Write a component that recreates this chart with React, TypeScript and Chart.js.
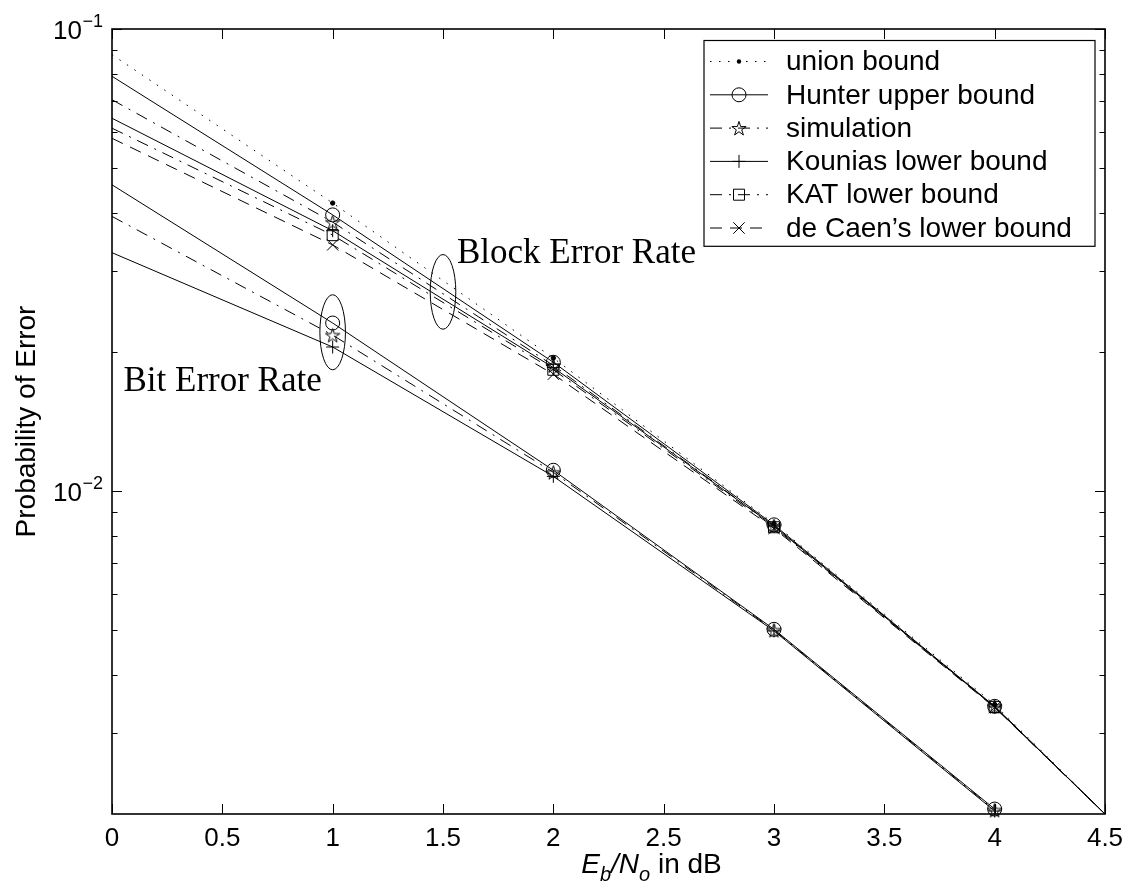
import React, { useEffect, useRef } from 'react';
import { Chart, registerables } from 'chart.js';

Chart.register(...registerables);

// ---------------- data ----------------
const snrBlock = [0, 1, 2, 3, 4, 4.5];
const snrBit = [0, 1, 2, 3, 4];

const blockUnion = [0.088, 0.042, 0.0194, 0.0085, 0.00345, 0.002];
const blockHunter = [0.079, 0.0396, 0.019, 0.00845, 0.00342, 0.002];
const blockSim = [0.0703, 0.0382, 0.0187, 0.0084, 0.00342, 0.002];
const blockKounias = [0.0641, 0.0366, 0.0185, 0.0084, 0.00341, 0.002];
const blockKAT = [0.061, 0.0358, 0.0183, 0.00835, 0.00341, 0.002];
const blockDeCaen = [0.058, 0.0341, 0.0179, 0.0083, 0.0034, 0.002];

const bitHunter = [0.046, 0.0231, 0.01109, 0.00502, 0.00205];
const bitSim = [0.0393, 0.02175, 0.01098, 0.005, 0.00204];
const bitKounias = [0.0328, 0.0205, 0.01076, 0.00498, 0.00203];

const xTicks = [0, 0.5, 1, 1.5, 2, 2.5, 3, 3.5, 4, 4.5];
const xTickLabels = ['0', '0.5', '1', '1.5', '2', '2.5', '3', '3.5', '4', '4.5'];
const yMajorTicks = [0.1, 0.01];
const yMajorExponents = ['\u22121', '\u22122'];
const yMinorTicks = [
  0.003, 0.004, 0.005, 0.006, 0.007, 0.008, 0.009,
  0.02, 0.03, 0.04, 0.05, 0.06, 0.07, 0.08, 0.09,
];

const legendNames = [
  'union bound',
  'Hunter upper bound',
  'simulation',
  'Kounias lower bound',
  'KAT lower bound',
  'de Caen\u2019s lower bound',
];

const blockLabelText = 'Block Error Rate';
const bitLabelText = 'Bit Error Rate';

// annotation anchors (data coordinates)
const blockLabelAt = { x: 1.563, y: 0.0311 };
const bitLabelAt = { x: 0.052, y: 0.01645 };
const blockEllipse = { x: 1.5, top: 0.0325, bottom: 0.0224, halfWidth: 0.058 };
const bitEllipse = { x: 1.0, top: 0.0266, bottom: 0.0183, halfWidth: 0.058 };

// ---------------- styles ----------------
const DOTTED = [1.5, 7.5];
const DASHED = [12, 8];
const DASHDOT = [12, 7, 2, 7];
const SOLID: number[] = [];

type MarkerKind = 'dot' | 'circle' | 'star' | 'plus' | 'square' | 'x';
const legendStyles: { dash: number[]; marker: MarkerKind }[] = [
  { dash: DOTTED, marker: 'dot' },
  { dash: SOLID, marker: 'circle' },
  { dash: DASHDOT, marker: 'star' },
  { dash: SOLID, marker: 'plus' },
  { dash: DASHDOT, marker: 'square' },
  { dash: DASHED, marker: 'x' },
];

const SANS = '"Liberation Sans", Arial, Helvetica, sans-serif';
const SERIF = '"Liberation Serif", "Times New Roman", serif';

function pentagramPath(ctx: CanvasRenderingContext2D, cx: number, cy: number, R: number) {
  const r = R * 0.382;
  ctx.beginPath();
  for (let k = 0; k < 10; k++) {
    const ang = -Math.PI / 2 + (k * Math.PI) / 5;
    const rad = k % 2 === 0 ? R : r;
    const px = cx + rad * Math.cos(ang);
    const py = cy + rad * Math.sin(ang);
    if (k === 0) ctx.moveTo(px, py);
    else ctx.lineTo(px, py);
  }
  ctx.closePath();
}

function makeStarCanvas(R: number) {
  const size = Math.ceil(R * 2 + 4);
  const c = document.createElement('canvas');
  c.width = size;
  c.height = size;
  const g = c.getContext('2d')!;
  g.strokeStyle = '#000';
  g.lineWidth = 1;
  pentagramPath(g, size / 2, size / 2 + 0.8, R);
  g.stroke();
  return c;
}

function drawMarker(ctx: CanvasRenderingContext2D, kind: MarkerKind, x: number, y: number) {
  ctx.save();
  ctx.setLineDash([]);
  ctx.strokeStyle = '#000';
  ctx.fillStyle = '#000';
  ctx.lineWidth = 1;
  ctx.beginPath();
  switch (kind) {
    case 'dot':
      ctx.arc(x, y, 2.2, 0, Math.PI * 2);
      ctx.fill();
      break;
    case 'circle':
      ctx.arc(x, y, 7, 0, Math.PI * 2);
      ctx.stroke();
      break;
    case 'star':
      pentagramPath(ctx, x, y + 0.8, 7.5);
      ctx.stroke();
      break;
    case 'plus':
      ctx.moveTo(x - 6.5, y);
      ctx.lineTo(x + 6.5, y);
      ctx.moveTo(x, y - 6.5);
      ctx.lineTo(x, y + 6.5);
      ctx.stroke();
      break;
    case 'square':
      ctx.rect(x - 5.5, y - 5.5, 11, 11);
      ctx.stroke();
      break;
    case 'x':
      ctx.moveTo(x - 5.7, y - 5.7);
      ctx.lineTo(x + 5.7, y + 5.7);
      ctx.moveTo(x + 5.7, y - 5.7);
      ctx.lineTo(x - 5.7, y + 5.7);
      ctx.stroke();
      break;
  }
  ctx.restore();
}

const framePlugin = {
  id: 'matlabFrame',
  afterDraw(chart: any) {
    const { ctx, chartArea: a, scales } = chart;
    const xs = scales.x;
    const ys = scales.y;
    const seg = (x1: number, y1: number, x2: number, y2: number) => {
      ctx.beginPath();
      ctx.moveTo(x1, y1);
      ctx.lineTo(x2, y2);
      ctx.stroke();
    };
    ctx.save();
    ctx.setLineDash([]);
    ctx.strokeStyle = '#000';
    ctx.lineWidth = 1;

    // ticks (inward, all four sides)
    xTicks.forEach((v) => {
      const px = Math.round(xs.getPixelForValue(v)) + 0.5;
      seg(px, a.bottom, px, a.bottom - 10);
      seg(px, a.top, px, a.top + 10);
    });
    yMajorTicks.forEach((v) => {
      const py = Math.round(ys.getPixelForValue(v)) + 0.5;
      seg(a.left, py, a.left + 10, py);
      seg(a.right, py, a.right - 10, py);
    });
    yMinorTicks.forEach((v) => {
      const py = Math.round(ys.getPixelForValue(v)) + 0.5;
      seg(a.left, py, a.left + 5.5, py);
      seg(a.right, py, a.right - 5.5, py);
    });

    // axes box
    ctx.lineWidth = 1.6;
    ctx.strokeRect(a.left, a.top, a.right - a.left, a.bottom - a.top);

    // x tick labels
    ctx.fillStyle = '#000';
    ctx.font = `26px ${SANS}`;
    ctx.textAlign = 'center';
    ctx.textBaseline = 'alphabetic';
    xTicks.forEach((v, i) => {
      ctx.fillText(xTickLabels[i], xs.getPixelForValue(v), a.bottom + 32);
    });

    // y tick labels 10^k
    yMajorTicks.forEach((v, i) => {
      const py = ys.getPixelForValue(v);
      ctx.font = `26px ${SANS}`;
      ctx.textAlign = 'right';
      ctx.fillText('10', a.left - 30, py + 10);
      ctx.font = `18px ${SANS}`;
      ctx.textAlign = 'left';
      ctx.fillText(yMajorExponents[i], a.left - 29.5, py - 2.5);
    });

    // y label
    ctx.save();
    ctx.font = `28px ${SANS}`;
    ctx.textAlign = 'center';
    ctx.translate(35, (a.top + a.bottom) / 2);
    ctx.rotate(-Math.PI / 2);
    ctx.fillText('Probability of Error', 0, 0);
    ctx.restore();

    // x label: E_b/N_o in dB
    const parts = [
      { t: 'E', it: true, sub: false },
      { t: 'b', it: true, sub: true },
      { t: '/', it: true, sub: false },
      { t: 'N', it: true, sub: false },
      { t: 'o', it: true, sub: true },
      { t: ' in dB', it: false, sub: false },
    ];
    const fontFor = (p: { it: boolean; sub: boolean }) =>
      `${p.it ? 'italic ' : ''}${p.sub ? 20 : 28}px ${SANS}`;
    let total = 0;
    parts.forEach((p) => {
      ctx.font = fontFor(p);
      total += ctx.measureText(p.t).width;
    });
    let cx = (a.left + a.right) / 2 + 43 - total / 2;
    const baseY = a.bottom + 59;
    ctx.textAlign = 'left';
    parts.forEach((p) => {
      ctx.font = fontFor(p);
      ctx.fillText(p.t, cx, p.sub ? baseY + 8 : baseY);
      cx += ctx.measureText(p.t).width;
    });

    // annotations: ellipses + serif labels
    ctx.lineWidth = 1;
    [blockEllipse, bitEllipse].forEach((e) => {
      const ex = xs.getPixelForValue(e.x);
      const rx = xs.getPixelForValue(e.x + e.halfWidth) - ex;
      const yt = ys.getPixelForValue(e.top);
      const yb = ys.getPixelForValue(e.bottom);
      ctx.beginPath();
      ctx.ellipse(ex, (yt + yb) / 2, rx, (yb - yt) / 2, 0, 0, Math.PI * 2);
      ctx.stroke();
    });
    ctx.font = `35px ${SERIF}`;
    ctx.textAlign = 'left';
    ctx.fillText(blockLabelText, xs.getPixelForValue(blockLabelAt.x), ys.getPixelForValue(blockLabelAt.y));
    ctx.fillText(bitLabelText, xs.getPixelForValue(bitLabelAt.x), ys.getPixelForValue(bitLabelAt.y));

    // legend
    const lx = a.right - 401;
    const lw = 391;
    const ly = a.top + 11.5;
    const rowH = 33.3;
    const lh = rowH * legendNames.length + 6;
    ctx.fillStyle = '#fff';
    ctx.fillRect(lx, ly, lw, lh);
    ctx.strokeStyle = '#000';
    ctx.lineWidth = 1.2;
    ctx.strokeRect(lx, ly, lw, lh);
    ctx.font = `28px ${SANS}`;
    ctx.textBaseline = 'middle';
    legendNames.forEach((name, i) => {
      const cy = ly + 21 + i * rowH;
      const st = legendStyles[i];
      ctx.strokeStyle = '#000';
      ctx.lineWidth = 1;
      ctx.setLineDash(st.dash);
      seg(lx + 6, cy, lx + 64, cy);
      ctx.setLineDash([]);
      drawMarker(ctx, st.marker, lx + 35, cy);
      ctx.fillStyle = '#000';
      ctx.fillText(name, lx + 82, cy + 1);
    });
    ctx.restore();
  },
};

function pts(xs: number[], ys: number[]) {
  return xs.map((x, i) => ({ x, y: ys[i] }));
}

// markers shown at the integer SNR points 1..4 only
function markerRadii(n: number, r: number) {
  const shown = [false, true, true, true, true, false];
  return shown.slice(0, n).map((s) => (s ? r : 0));
}

export default function App() {
  const ref = useRef<HTMLCanvasElement>(null);

  useEffect(() => {
    const canvas = ref.current;
    if (!canvas) return;
    const star = makeStarCanvas(7.5);

    const base = {
      borderColor: '#000',
      borderWidth: 1,
      pointBorderColor: '#000',
      pointBackgroundColor: 'rgba(0,0,0,0)',
      pointBorderWidth: 1,
      tension: 0,
      fill: false,
      clip: 10,
    };

    const datasets: any[] = [
      { ...base, label: 'union bound', data: pts(snrBlock, blockUnion), borderDash: DOTTED, pointStyle: 'circle', pointRadius: markerRadii(6, 2.2), pointBackgroundColor: '#000' },
      { ...base, label: 'Hunter upper bound', data: pts(snrBlock, blockHunter), pointStyle: 'circle', pointRadius: markerRadii(6, 7) },
      { ...base, label: 'simulation', data: pts(snrBlock, blockSim), borderDash: DASHDOT, pointStyle: star, pointRadius: markerRadii(6, 7) },
      { ...base, label: 'Kounias lower bound', data: pts(snrBlock, blockKounias), pointStyle: 'cross', pointRadius: markerRadii(6, 6.5) },
      { ...base, label: 'KAT lower bound', data: pts(snrBlock, blockKAT), borderDash: DASHDOT, pointStyle: 'rect', pointRadius: markerRadii(6, 7.8) },
      { ...base, label: 'de Caen\u2019s lower bound', data: pts(snrBlock, blockDeCaen), borderDash: DASHED, pointStyle: 'crossRot', pointRadius: markerRadii(6, 8) },
      { ...base, label: 'Hunter upper bound (bit)', data: pts(snrBit, bitHunter), pointStyle: 'circle', pointRadius: markerRadii(5, 7) },
      { ...base, label: 'simulation (bit)', data: pts(snrBit, bitSim), borderDash: DASHDOT, pointStyle: star, pointRadius: markerRadii(5, 7) },
      { ...base, label: 'Kounias lower bound (bit)', data: pts(snrBit, bitKounias), pointStyle: 'cross', pointRadius: markerRadii(5, 6.5) },
    ];

    const chart = new Chart(canvas, {
      type: 'line',
      data: { datasets },
      options: {
        animation: false,
        responsive: false,
        devicePixelRatio: 1,
        events: [],
        layout: { padding: { left: 112, top: 29, right: 24, bottom: 82 } },
        plugins: { legend: { display: false }, tooltip: { enabled: false } },
        scales: {
          x: { type: 'linear', min: 0, max: 4.5, display: false },
          y: { type: 'logarithmic', min: 0.002, max: 0.1, display: false },
        },
      },
      plugins: [framePlugin],
    } as any);

    return () => chart.destroy();
  }, []);

  return (
    <div style={{ position: 'fixed', left: 0, top: 0, width: 1129, height: 896, background: '#fff' }}>
      <canvas ref={ref} width={1129} height={896} style={{ display: 'block', width: 1129, height: 896 }} />
    </div>
  );
}
